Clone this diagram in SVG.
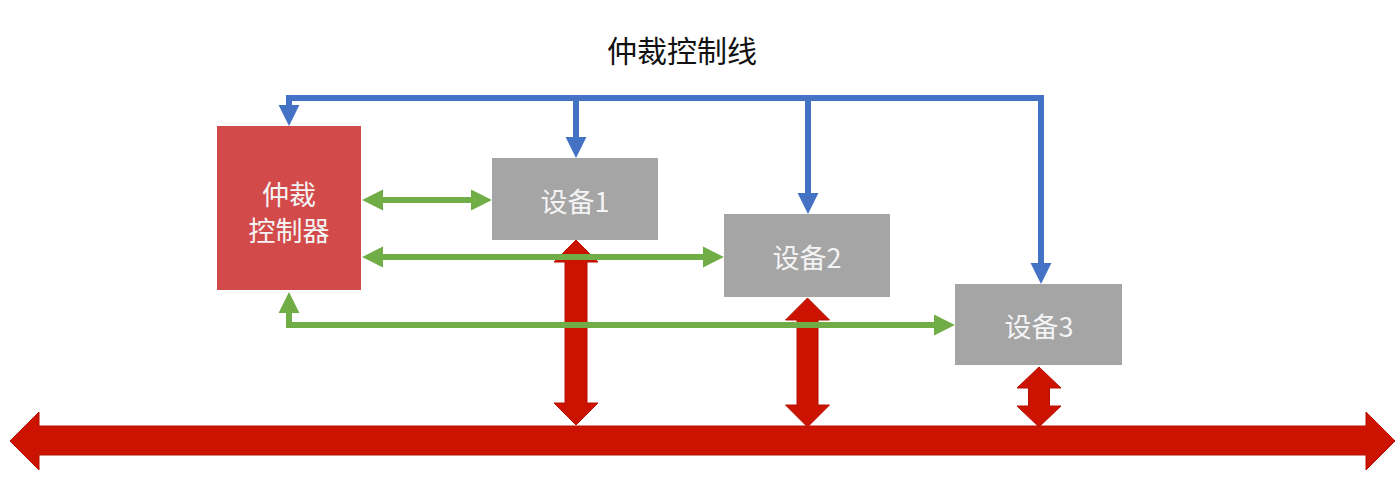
<svg xmlns="http://www.w3.org/2000/svg" width="1400" height="481" viewBox="0 0 1400 481">
<style>
.lbl{font-family:"Noto Sans CJK SC","Noto Sans",sans-serif;fill:#f4f4f4;font-size:27px;text-anchor:middle;dominant-baseline:central}
.title{font-family:"Noto Sans CJK SC","Noto Sans",sans-serif;fill:#111;font-size:30px;text-anchor:middle;dominant-baseline:central}
.dev{fill:#a5a5a5}
.blue{fill:none;stroke:#4472c4;stroke-width:6}
.green{fill:none;stroke:#70ad47;stroke-width:6}
.red{fill:#cc1200;stroke:#b51000;stroke-width:1}
</style>
<defs>
<marker id="hb" markerUnits="userSpaceOnUse" markerWidth="22" markerHeight="22" refX="1" refY="10" orient="auto-start-reverse" viewBox="0 0 21 20">
<path d="M0,0 L20,10 L0,20 z" fill="#4472c4"/>
</marker>
<marker id="hg" markerUnits="userSpaceOnUse" markerWidth="22" markerHeight="22" refX="1" refY="10" orient="auto-start-reverse" viewBox="0 0 21 20">
<path d="M0,0 L20,10 L0,20 z" fill="#70ad47"/>
</marker>
</defs>
<rect width="1400" height="481" fill="#ffffff"/>
<text class="title" x="682" y="49">仲裁控制线</text>
<g id="controller">
<rect x="217" y="126" width="144" height="164" fill="#d34a4b"/>
<text class="lbl" x="289" y="193">仲裁</text>
<text class="lbl" x="289" y="229">控制器</text>
</g>
<g id="device1">
<rect class="dev" x="492" y="158" width="166" height="82"/>
<text class="lbl" x="575" y="200">设备1</text>
</g>
<g id="device2">
<rect class="dev" x="724" y="214" width="166" height="83"/>
<text class="lbl" x="807" y="256">设备2</text>
</g>
<g id="device3">
<rect class="dev" x="955" y="284" width="167" height="81"/>
<text class="lbl" x="1039" y="325">设备3</text>
</g>
<g id="connectors">
<polygon id="bus" class="red" points="10,441 39,412 39,426 1366,426 1366,412 1395,441 1366,470 1366,455 39,455 39,470"/>
<polygon class="red" points="576,240 598,262 587,262 587,403 598,403 576,425 554,403 565,403 565,262 554,262"/>
<polygon class="red" points="807.5,298 829.5,320 818,320 818,405 829.5,405 807.5,427 785.5,405 797,405 797,320 785.5,320"/>
<polygon class="red" points="1039,367 1061,388 1049.5,388 1049.5,406 1061,406 1039,427 1017,406 1028.5,406 1028.5,388 1017,388"/>
<path class="blue" d="M1041,264 V98 H289 V106" marker-start="url(#hb)" marker-end="url(#hb)"/>
<path class="blue" d="M576,98 V138" marker-end="url(#hb)"/>
<path class="blue" d="M808,98 V194" marker-end="url(#hb)"/>
<path class="green" d="M382,200 H472" marker-start="url(#hg)" marker-end="url(#hg)"/>
<path class="green" d="M382,257 H704" marker-start="url(#hg)" marker-end="url(#hg)"/>
<path class="green" d="M935,325 H289 V312" marker-start="url(#hg)" marker-end="url(#hg)"/>
</g>
</svg>
